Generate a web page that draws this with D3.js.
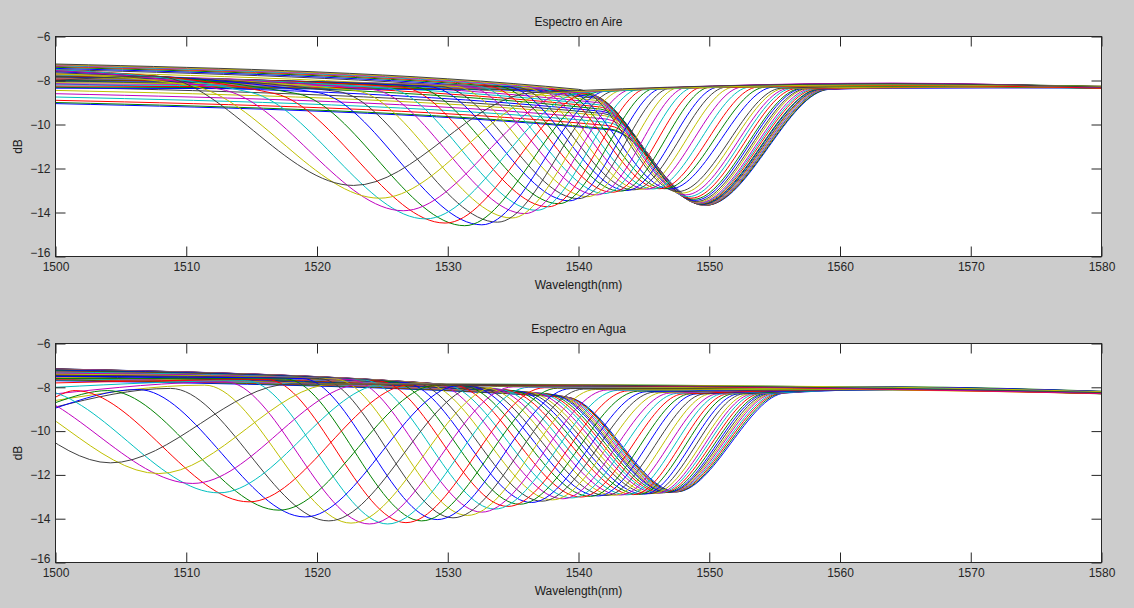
<!DOCTYPE html>
<html><head><meta charset="utf-8">
<script src="https://cdn.jsdelivr.net/npm/d3@7"></script>
<style>
html,body{margin:0;padding:0;background:#cccccc;}
svg{display:block;}
text{font-family:"Liberation Sans",Arial,Helvetica,sans-serif;}
</style></head><body>
<svg id="fig" width="1134" height="608"></svg>
<script>
// ---------- tick labels ----------
const xTicks = [1500,1510,1520,1530,1540,1550,1560,1570,1580];
const yTicks = [-16,-14,-12,-10,-8,-6];
const TAIL_NM = 1564;   // wavelength of the flat tail sample
const LEFT_NM = 1485;   // wavelength of the start sample for spectra whose shoulder lies before 1500 nm
// MATLAB (old) default color order: b g r c m y k
const colorOrder = ["#0000ff","#008000","#ff0000","#00bfbf","#bf00bf","#bfbf00","#404040"];

// ---------- Espectro en Aire (one entry per spectrum, left dip -> right dip) ----------
const airDipNm = [1522.8,1524.8,1526.6,1528.3,1529.8,1531.3,1532.6,1533.8,1534.9,1535.9,1536.8,1537.7,1538.5,1539.3,1540.0,1540.7,1541.4,1542.0,1542.6,1543.2,1543.7,1544.2,1544.7,1545.2,1545.7,1546.2,1546.6,1547.0,1547.6,1547.9,1548.2,1548.4,1548.6,1548.8,1548.9,1549.0,1549.1,1549.2,1549.25,1549.3,1549.35,1549.4,1549.45,1549.5,1549.55,1549.6,1549.65,1549.7,1549.8];
const airDipDb = [-12.77,-13.35,-13.92,-14.29,-14.48,-14.60,-14.56,-14.44,-14.25,-14.05,-13.90,-13.74,-13.60,-13.47,-13.37,-13.28,-13.20,-13.14,-13.08,-13.03,-13.00,-12.97,-12.95,-12.94,-12.93,-12.92,-12.92,-12.93,-13.05,-13.12,-13.20,-13.28,-13.35,-13.40,-13.45,-13.50,-13.53,-13.56,-13.58,-13.60,-13.62,-13.63,-13.64,-13.65,-13.66,-13.67,-13.68,-13.68,-13.66];
const airShNm = [1507.5,1510.5,1513.0,1515.0,1516.8,1518.5,1520.1,1521.6,1522.9,1524.2,1525.4,1526.5,1527.5,1528.6,1529.5,1530.5,1531.4,1532.2,1533.0,1533.8,1534.5,1535.2,1535.9,1536.6,1537.2,1537.9,1538.4,1539.0,1540.0,1540.2,1540.4,1540.6,1540.8,1541.0,1541.1,1541.2,1541.3,1541.4,1541.5,1541.6,1541.7,1541.8,1541.9,1542.0,1542.1,1542.2,1542.3,1542.4,1542.4];
const airShDb = [-7.80,-8.25,-8.45,-8.55,-8.60,-8.60,-8.55,-8.50,-8.45,-8.40,-8.35,-8.30,-8.30,-8.28,-8.27,-8.26,-8.25,-8.25,-8.25,-8.26,-8.28,-8.30,-8.32,-8.35,-8.38,-8.40,-8.42,-8.45,-8.40,-8.45,-8.50,-8.55,-8.60,-8.66,-8.73,-8.80,-8.90,-9.00,-9.10,-9.20,-9.30,-9.40,-9.50,-9.60,-9.75,-9.90,-10.05,-10.20,-10.24];
const airStartDb = [-8.00,-7.70,-7.55,-7.50,-7.50,-7.55,-7.60,-7.65,-7.70,-7.72,-7.75,-7.78,-7.80,-7.82,-7.85,-7.88,-7.90,-7.92,-7.95,-7.98,-8.00,-8.05,-8.10,-8.15,-8.20,-8.25,-8.30,-8.35,-7.25,-7.28,-7.30,-7.33,-7.36,-7.40,-7.45,-7.50,-7.60,-7.70,-7.80,-7.90,-8.00,-8.15,-8.30,-8.45,-8.60,-8.75,-8.90,-9.00,-9.05];
const airRiseNm = [1536.5,1538.0,1539.3,1540.3,1541.0,1541.7,1542.3,1542.9,1543.5,1544.1,1544.7,1545.3,1545.9,1546.5,1547.1,1547.7,1548.3,1548.9,1549.5,1550.1,1550.7,1551.3,1551.9,1552.5,1553.1,1553.7,1554.3,1554.9,1555.5,1555.8,1556.1,1556.4,1556.7,1557.0,1557.2,1557.4,1557.6,1557.8,1558.0,1558.2,1558.4,1558.5,1558.6,1558.7,1558.8,1558.9,1559.0,1559.1,1559.2];
const airRiseDb = [-8.55,-8.55,-8.55,-8.55,-8.50,-8.50,-8.45,-8.45,-8.42,-8.40,-8.38,-8.36,-8.35,-8.34,-8.33,-8.32,-8.31,-8.30,-8.30,-8.30,-8.30,-8.30,-8.30,-8.30,-8.30,-8.30,-8.30,-8.30,-8.35,-8.35,-8.35,-8.35,-8.36,-8.36,-8.36,-8.37,-8.37,-8.37,-8.38,-8.38,-8.38,-8.39,-8.39,-8.39,-8.40,-8.40,-8.40,-8.40,-8.40];
const airTailDb = [-8.15,-8.2,-8.12,-8.18,-8.22,-8.14,-8.2,-8.16,-8.24,-8.13,-8.19,-8.21,-8.15,-8.23,-8.17,-8.2,-8.14,-8.22,-8.18,-8.25,-8.16,-8.2,-8.23,-8.15,-8.21,-8.18,-8.24,-8.2,-8.26,-8.3,-8.24,-8.28,-8.32,-8.25,-8.3,-8.27,-8.33,-8.26,-8.29,-8.31,-8.27,-8.34,-8.28,-8.3,-8.32,-8.29,-8.33,-8.3,-8.35];
const airEndDb = [-8.3,-8.27,-8.32,-8.29,-8.34,-8.28,-8.31,-8.26,-8.33,-8.3,-8.28,-8.35,-8.29,-8.31,-8.27,-8.32,-8.3,-8.34,-8.28,-8.31,-8.29,-8.33,-8.27,-8.3,-8.32,-8.28,-8.35,-8.3,-8.31,-8.29,-8.33,-8.3,-8.27,-8.34,-8.3,-8.32,-8.28,-8.31,-8.35,-8.29,-8.3,-8.33,-8.27,-8.31,-8.34,-8.3,-8.28,-8.32,-8.3];

// ---------- Espectro en Agua ----------
const waterDipNm = [1504.2,1507.9,1510.5,1512.5,1514.8,1517.1,1519.1,1520.9,1522.6,1524.0,1525.4,1526.8,1528.0,1529.2,1530.4,1531.5,1532.6,1533.6,1534.6,1535.5,1536.4,1537.2,1538.0,1538.8,1539.5,1540.2,1540.9,1541.5,1542.1,1542.7,1543.2,1543.7,1544.2,1544.6,1545.0,1545.4,1545.7,1546.0,1546.2,1546.4,1546.6,1546.8,1546.9,1547.0,1547.1,1547.2,1547.3,1547.4,1547.5];
const waterDipDb = [-11.45,-11.94,-12.39,-12.82,-13.23,-13.61,-13.92,-14.10,-14.20,-14.24,-14.24,-14.18,-14.10,-14.04,-13.96,-13.85,-13.70,-13.56,-13.44,-13.34,-13.26,-13.20,-13.14,-13.09,-13.05,-13.01,-12.98,-12.96,-12.94,-12.93,-12.92,-12.91,-12.90,-12.89,-12.88,-12.86,-12.85,-12.84,-12.83,-12.82,-12.81,-12.80,-12.80,-12.79,-12.79,-12.78,-12.78,-12.78,-12.77];
const waterShNm = [1491.5,1494.0,1496.0,1498.5,1501.5,1504.0,1506.3,1508.8,1511.4,1513.0,1514.6,1516.2,1517.6,1518.9,1520.2,1521.4,1522.6,1523.7,1524.8,1525.8,1526.7,1527.5,1528.3,1529.1,1529.8,1530.5,1531.2,1531.8,1532.4,1533.0,1533.5,1534.0,1534.5,1535.0,1535.4,1535.8,1536.2,1536.6,1537.0,1537.3,1537.6,1537.9,1538.1,1538.3,1538.5,1538.7,1538.9,1539.0,1539.1];
const waterShDb = [-7.90,-7.95,-8.00,-8.10,-8.15,-8.15,-8.10,-8.05,-7.90,-7.75,-7.70,-7.65,-7.62,-7.60,-7.60,-7.62,-7.65,-7.68,-7.72,-7.75,-7.78,-7.80,-7.82,-7.85,-7.88,-7.90,-7.93,-7.96,-8.00,-8.03,-8.06,-8.09,-8.12,-8.15,-8.18,-8.20,-8.22,-8.24,-8.26,-8.28,-8.30,-8.32,-8.34,-8.36,-8.38,-8.40,-8.42,-8.44,-8.45];
const waterStartDb = [-8.30,-8.30,-8.40,-8.50,-8.45,-8.70,-8.95,-8.90,-8.60,-8.30,-8.00,-7.80,-7.60,-7.50,-7.45,-7.40,-7.35,-7.30,-7.28,-7.25,-7.22,-7.20,-7.20,-7.18,-7.18,-7.17,-7.17,-7.16,-7.16,-7.16,-7.17,-7.18,-7.20,-7.22,-7.25,-7.28,-7.30,-7.33,-7.36,-7.40,-7.43,-7.46,-7.50,-7.53,-7.56,-7.60,-7.63,-7.66,-7.70];
const waterRiseNm = [1518.0,1521.3,1523.5,1525.2,1527.2,1529.2,1530.9,1532.4,1533.8,1535.0,1536.2,1537.4,1538.4,1539.4,1540.4,1541.3,1542.2,1543.0,1543.8,1544.5,1545.2,1545.8,1546.4,1547.0,1547.5,1548.0,1548.5,1549.0,1549.6,1550.1,1550.6,1551.0,1551.4,1551.8,1552.2,1552.6,1553.0,1553.3,1553.6,1553.9,1554.2,1554.4,1554.6,1554.8,1555.0,1555.2,1555.4,1555.6,1555.8];
const waterRiseDb = [-7.85,-7.85,-7.85,-7.85,-7.88,-7.90,-7.92,-7.94,-7.96,-7.98,-8.00,-8.02,-8.04,-8.06,-8.08,-8.10,-8.12,-8.14,-8.16,-8.18,-8.20,-8.22,-8.24,-8.26,-8.28,-8.30,-8.30,-8.30,-8.30,-8.30,-8.30,-8.30,-8.30,-8.30,-8.30,-8.30,-8.30,-8.30,-8.30,-8.28,-8.28,-8.28,-8.28,-8.27,-8.27,-8.27,-8.27,-8.26,-8.26];
const waterTailDb = [-8.05,-8.0,-8.08,-8.02,-8.1,-8.04,-7.99,-8.06,-8.12,-8.01,-8.07,-8.03,-8.09,-8.0,-8.05,-8.11,-8.02,-8.08,-8.04,-7.98,-8.06,-8.1,-8.03,-8.07,-8.01,-8.09,-8.05,-8.12,-8.02,-8.06,-8.0,-8.08,-8.04,-8.1,-8.03,-8.07,-7.99,-8.05,-8.11,-8.02,-8.06,-8.09,-8.04,-8.0,-8.08,-8.03,-8.07,-8.05,-8.1];
const waterEndDb = [-8.24,-8.2,-8.27,-8.22,-8.29,-8.23,-8.19,-8.25,-8.28,-8.21,-8.26,-8.22,-8.3,-8.2,-8.24,-8.27,-8.21,-8.25,-8.23,-8.18,-8.26,-8.29,-8.22,-8.24,-8.2,-8.27,-8.23,-8.28,-8.21,-8.25,-8.19,-8.26,-8.22,-8.29,-8.24,-8.2,-8.27,-8.23,-8.25,-8.21,-8.28,-8.24,-8.22,-8.26,-8.2,-8.25,-8.23,-8.27,-8.24];

// ---------- layout ----------
const W = 1134, H = 608;
const plotLeft = 55.5, plotRight = 1101.5;
const panels = [
  {title:"Espectro en Aire", top:36.5, bottom:256.5,
   dipNm:airDipNm, dipDb:airDipDb, shNm:airShNm, shDb:airShDb, startDb:airStartDb,
   riseNm:airRiseNm, riseDb:airRiseDb, tailDb:airTailDb, endDb:airEndDb},
  {title:"Espectro en Agua", top:343.5, bottom:562.5,
   dipNm:waterDipNm, dipDb:waterDipDb, shNm:waterShNm, shDb:waterShDb, startDb:waterStartDb,
   riseNm:waterRiseNm, riseDb:waterRiseDb, tailDb:waterTailDb, endDb:waterEndDb}
];

const svg = d3.select("#fig");
svg.append("rect").attr("width", W).attr("height", H).attr("fill", "#cccccc");
const x = d3.scaleLinear().domain([1500, 1580]).range([plotLeft, plotRight]);
const axisColor = "#262626";

panels.forEach((P, k) => {
  const y = d3.scaleLinear().domain([-16, -6]).range([P.bottom, P.top]);
  const g = svg.append("g");
  g.append("rect").attr("x", plotLeft).attr("y", P.top)
    .attr("width", plotRight - plotLeft).attr("height", P.bottom - P.top).attr("fill", "#ffffff");
  const clipId = "clip" + k;
  svg.append("clipPath").attr("id", clipId).append("rect")
    .attr("x", plotLeft).attr("y", P.top).attr("width", plotRight - plotLeft).attr("height", P.bottom - P.top);

  const line = d3.line().x(d => x(d[0])).y(d => y(d[1])).curve(d3.curveMonotoneX);
  const N = P.dipNm.length;
  const lines = g.append("g").attr("clip-path", `url(#${clipId})`);
  for (let i = N - 1; i >= 0; i--) {
    const pts = [];
    pts.push([P.shNm[i] > 1500 ? 1500 : LEFT_NM, P.startDb[i]]);
    pts.push([P.shNm[i], P.shDb[i]], [P.dipNm[i], P.dipDb[i]], [P.riseNm[i], P.riseDb[i]],
             [TAIL_NM, P.tailDb[i]], [1580, P.endDb[i]]);
    lines.append("path").attr("d", line(pts)).attr("fill", "none")
      .attr("stroke", colorOrder[(N - 1 - i) % 7]).attr("stroke-width", 1);
  }

  // axes (MATLAB style: ticks inside on all four sides)
  const fs = "12px";
  const ax = g.append("g").attr("transform", `translate(0,${P.bottom})`)
    .call(d3.axisBottom(x).tickValues(xTicks).tickSizeInner(-10).tickSizeOuter(0).tickPadding(6).tickFormat(d3.format("d")));
  const axT = g.append("g").attr("transform", `translate(0,${P.top})`)
    .call(d3.axisTop(x).tickValues(xTicks).tickSizeInner(-10).tickSizeOuter(0).tickFormat(""));
  const ayL = g.append("g").attr("transform", `translate(${plotLeft},0)`)
    .call(d3.axisLeft(y).tickValues(yTicks).tickSizeInner(-10).tickSizeOuter(0).tickPadding(5).tickFormat(d3.format("d")));
  const ayR = g.append("g").attr("transform", `translate(${plotRight},0)`)
    .call(d3.axisRight(y).tickValues(yTicks).tickSizeInner(-10).tickSizeOuter(0).tickFormat(""));
  [ax, axT, ayL, ayR].forEach(a => {
    a.select(".domain").remove();
    a.selectAll("line").attr("stroke", axisColor);
    a.selectAll("text").attr("fill", axisColor).style("font-size", fs)
      .style("font-family", '"Liberation Sans", Arial, sans-serif');
  });
  // lift the lowest y label a little so it does not collide with the first x label
  ayL.selectAll(".tick text").filter(d => d === -16).attr("dy", "0.02em");

  g.append("rect").attr("x", plotLeft).attr("y", P.top)
    .attr("width", plotRight - plotLeft).attr("height", P.bottom - P.top)
    .attr("fill", "none").attr("stroke", axisColor).attr("stroke-width", 1);

  const cx = (plotLeft + plotRight) / 2;
  g.append("text").attr("x", cx).attr("y", P.top - 11).attr("text-anchor", "middle")
    .attr("fill", "#1a1a1a").style("font-size", fs).text(P.title);
  g.append("text").attr("x", cx).attr("y", P.bottom + 32).attr("text-anchor", "middle")
    .attr("fill", "#1a1a1a").style("font-size", fs).text("Wavelength(nm)");
  g.append("text").attr("transform", `translate(22,${(P.top + P.bottom) / 2}) rotate(-90)`)
    .attr("text-anchor", "middle").attr("fill", "#1a1a1a").style("font-size", fs).text("dB");
});
</script>
</body></html>
